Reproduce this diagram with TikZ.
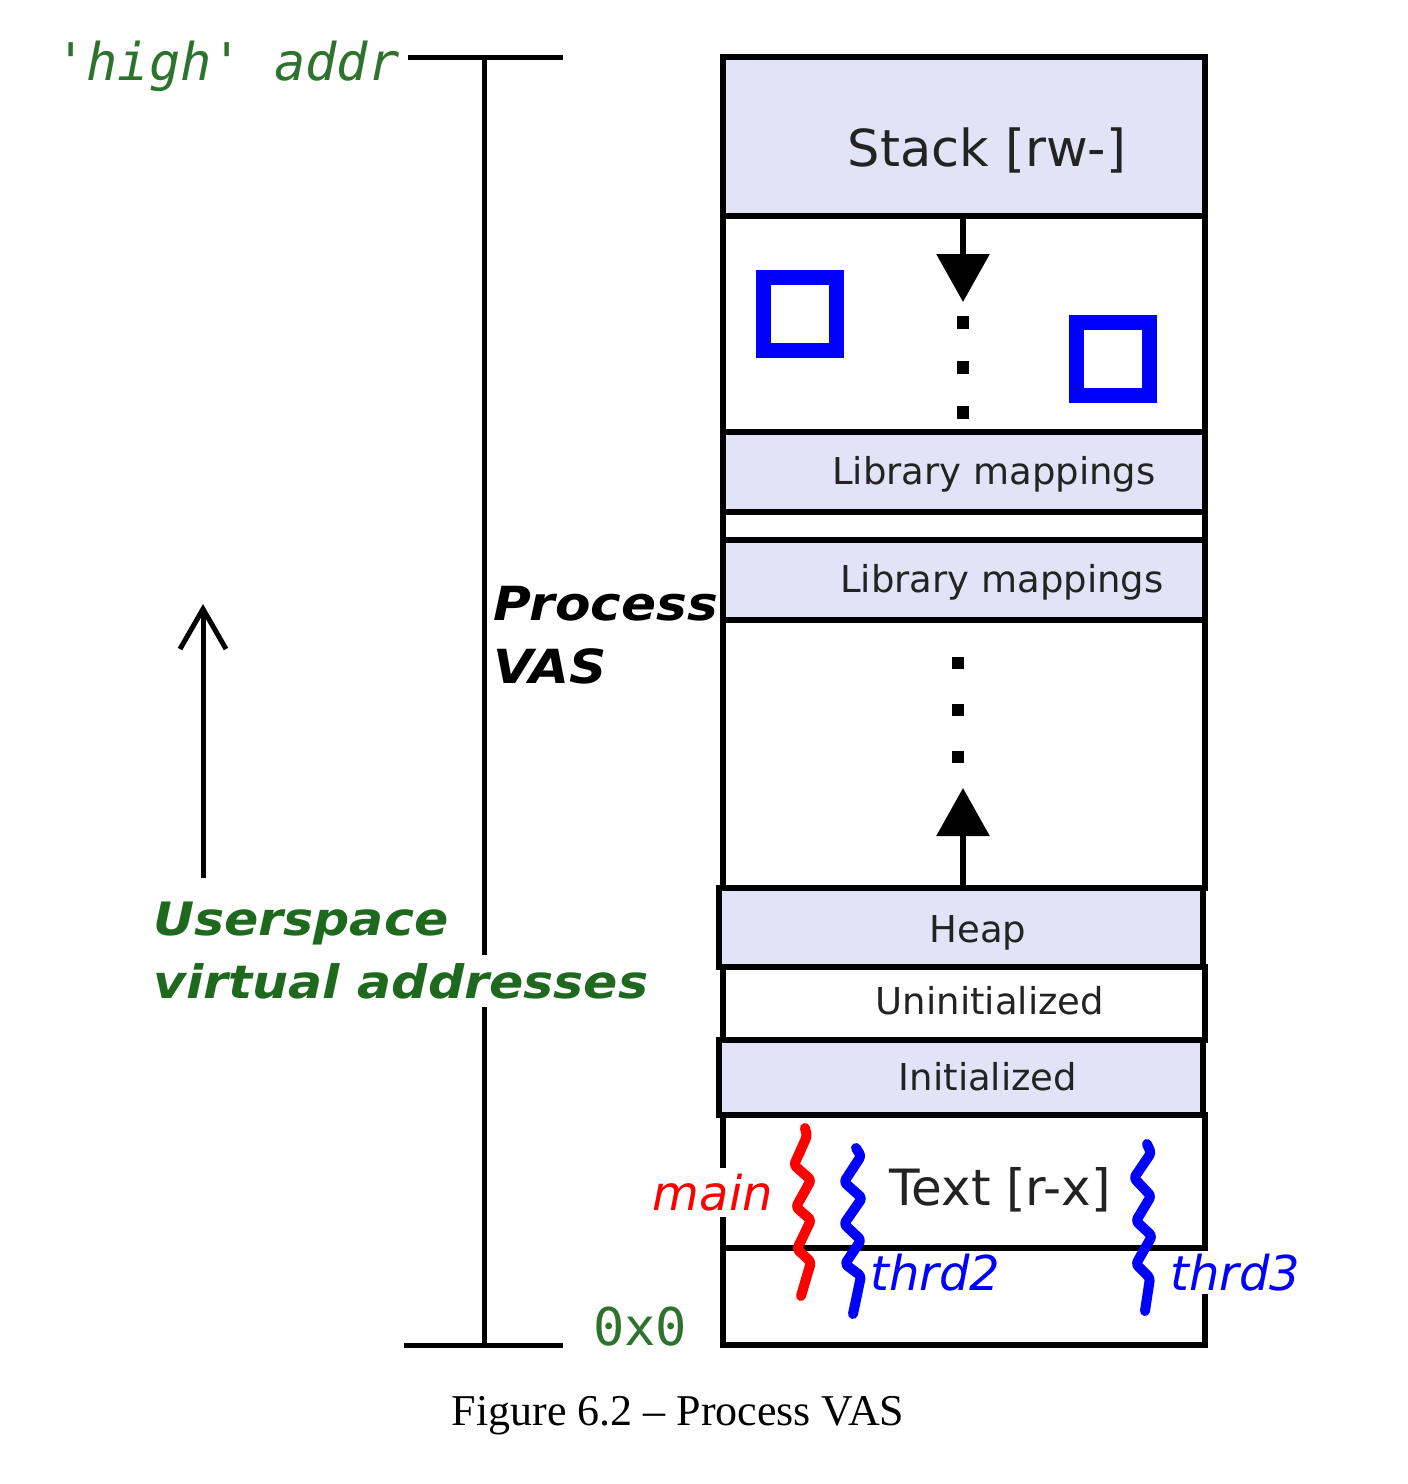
\documentclass[tikz,border=0pt]{standalone}
\usepackage{fontspec}
\setmainfont{DejaVu Sans}
\newfontfamily\monof{DejaVu Sans Mono}
\newfontfamily\capf{Liberation Serif}
\newfontfamily\widebi[FakeStretch=1.1]{DejaVu Sans Bold Oblique}
\usetikzlibrary{arrows.meta}
\definecolor{lav}{RGB}{227,227,247}
\definecolor{dgreen}{RGB}{30,105,30}
\definecolor{lgreen}{RGB}{45,115,45}
\definecolor{lbl}{RGB}{35,35,35}
\newcommand\fsz[1]{\fontsize{#1}{#1}\selectfont}
\begin{document}
\begin{tikzpicture}[x=1pt,y=-1pt,
  band/.style={draw=black, line width=6pt, inner sep=0pt, outer sep=0pt},
  seglabel/.style={text=lbl, inner sep=0pt, font=\fsz{37}},
  biglabel/.style={text=lbl, inner sep=0pt, font=\fsz{50}},
  bluesq/.style={draw=blue, line width=15pt, minimum size=73pt, inner sep=0pt, fill=white},
  brk/.style={line width=5pt, line cap=butt},
  squig/.style={line width=10pt, line cap=round, line join=round, rounded corners=3pt},
  growarrow/.style={line width=6pt, -{Triangle[width=52pt,length=48pt]}},
  dotline/.style={line width=12pt, dash pattern=on 13pt off 32pt},
  thrdlbl/.style={text=blue, inner sep=0pt, font=\fsz{48}\itshape}
]
\useasboundingbox (0,0) rectangle (1408,1484);

% ---- column bands ----
\node[band, fill=lav,   minimum width=482pt, minimum height=159pt] (stack)  at (964,136.5) {};
\node[band, fill=white, minimum width=482pt, minimum height=216pt] (free1)  at (964,324) {};
\node[band, fill=lav,   minimum width=482pt, minimum height=80pt]  (lib1)   at (964,472) {};
\node[band, fill=white, minimum width=482pt, minimum height=28pt]  (gap2)   at (964,526) {};
\node[band, fill=lav,   minimum width=482pt, minimum height=80pt]  (lib2)   at (964,580) {};
\node[band, fill=white, minimum width=482pt, minimum height=268pt] (free2)  at (964,754) {};
\node[band, fill=lav,   minimum width=484pt, minimum height=79pt]  (heap)   at (961,927.5) {};
\node[band, fill=white, minimum width=482pt, minimum height=73pt]  (uninit) at (964,1003.5) {};
\node[band, fill=lav,   minimum width=484pt, minimum height=75pt]  (init)   at (961,1077.5) {};
\node[band, fill=white, minimum width=482pt, minimum height=133pt] (textseg) at (964,1181.5) {};
\node[band, fill=white, minimum width=482pt, minimum height=97pt]  (bottom) at (964,1296.5) {};

% ---- labels in bands ----
\node[biglabel, font=\fsz{51}, anchor=base] (stacktxt) at (987,166) {Stack [rw-]};
\node[seglabel, anchor=base] (lib1txt) at (994,484) {Library mappings};
\node[seglabel, anchor=base] (lib2txt) at (1002,592) {Library mappings};
\node[seglabel, anchor=base] (heaptxt) at (978,942) {Heap};
\node[seglabel, anchor=base] (uninittxt) at (990,1014) {Uninitialized};
\node[seglabel, anchor=base] (inittxt) at (988,1090) {Initialized};
\node[biglabel, anchor=base] (texttxt) at (1000,1205) {Text [r-x]};

% ---- blue squares ----
\node[bluesq] (sq1) at (799.5,314) {};
\node[bluesq] (sq2) at (1113,359) {};

% ---- growth arrows and dots ----
\coordinate (downtip) at (963,302);
\draw[growarrow] (stack.south -| downtip) -- (downtip);
\coordinate (dtop1) at (963,316);
\coordinate (dbot1) at (963,422);
\draw[dotline] (dtop1) -- (dbot1);
\coordinate (uptip) at (963,788);
\draw[growarrow] (heap.north -| uptip) -- (uptip);
\coordinate (dtop2) at (958,657);
\coordinate (dbot2) at (958,765);
\draw[dotline, dash pattern=on 12pt off 35pt] (dtop2) -- (dbot2);

% ---- bracket ----
\coordinate (bt) at (484,57);
\coordinate (bb) at (484,1345);
\draw[brk] (408,57) -- (563,57);
\draw[brk] (404,1345) -- (563,1345);
\draw[brk] (bt) -- (bb);

\node[anchor=base west, inner sep=0pt, text=lgreen, font=\fsz{52}\monof\itshape] (high) at (55,80) {'high' addr};
\node[anchor=base west, inner sep=0pt, text=lgreen, font=\fsz{52}\monof] (zero) at (593,1345) {0x0};

\node[anchor=base west, inner sep=0pt, font=\fsz{47}\widebi] (proc1) at (493,620) {Process};
\node[anchor=base west, inner sep=0pt, font=\fsz{47}\widebi] (proc2) at (493,683) {VAS};

\node[anchor=base west, inner sep=0pt, text=dgreen, font=\fsz{46}\widebi] (us1) at (153,935) {Userspace};
\node[anchor=base west, inner sep=0pt, inner ysep=8pt, fill=white, text=dgreen, font=\fsz{46}\widebi] (us2) at (153,998) {virtual addresses};

% ---- up arrow ----
\coordinate (uparrbot) at (203,878);
\coordinate (uparrtop) at (203,604);
\draw[line width=5pt, -{Straight Barb[width=46pt,length=40pt,line width=5pt]}] (uparrbot) -- (uparrtop);

% ---- threads ----
\node[anchor=base east, inner xsep=4pt, inner ysep=6pt, fill=white, text=red, font=\fsz{48}\itshape] (mainlbl) at (777,1210) {main};
\node[thrdlbl, anchor=base west] (t2lbl) at (870,1290) {thrd2};
\node[thrdlbl, anchor=base west, fill=white, inner xsep=3pt, inner ysep=3pt] (t3lbl) at (1167,1290) {thrd3};

\draw[squig, red] (805,1128) -- (807,1136) -- (794,1165) -- (811,1180) -- (796,1207) -- (811,1220) -- (797,1249) -- (811,1262) -- (801,1296);
\draw[squig, blue] (856,1148) -- (861,1156) -- (844,1182) -- (862,1198) -- (844,1224) -- (861,1240) -- (845,1264) -- (861,1276) -- (853,1314);
\draw[squig, blue] (1147,1144) -- (1151,1153) -- (1134,1178) -- (1151,1196) -- (1136,1221) -- (1152,1236) -- (1136,1264) -- (1150,1278) -- (1145,1311);

% ---- caption ----
\node[anchor=base, inner sep=0pt, font=\fsz{44}\capf] (caption) at (678,1425) {Figure 6.2 – Process VAS};
\end{tikzpicture}
\end{document}
